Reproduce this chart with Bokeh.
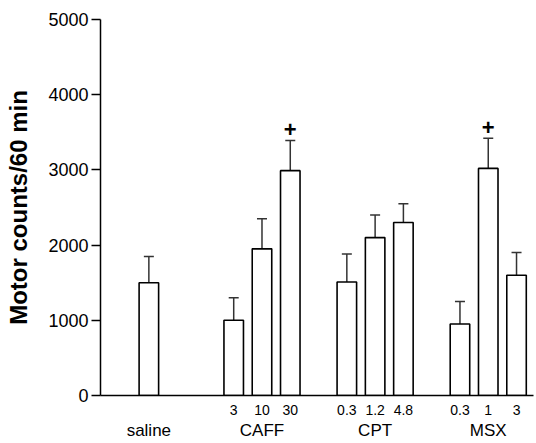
from bokeh.plotting import figure
from bokeh.models import ColumnDataSource, Whisker, TeeHead, FixedTicker, LinearAxis, Range1d
from bokeh.core.properties import value
from bokeh.embed import file_html
from bokeh.resources import INLINE

# ---- data ----
groups = ["saline", "CAFF", "CPT", "MSX"]
group_doses = [[""], ["3", "10", "30"], ["0.3", "1.2", "4.8"], ["0.3", "1", "3"]]
means = [1500, 1000, 1950, 2990, 1510, 2100, 2300, 950, 3020, 1600]
sems = [350, 300, 400, 400, 370, 300, 250, 300, 400, 300]
significant = [False, False, False, True, False, False, False, False, True, False]
y_ticks = [0, 1000, 2000, 3000, 4000, 5000]

# ---- positions: one slot per bar, gap between groups ----
xs, doses, gcenters = [], [], []
pos = 0
for gi, dl in enumerate(group_doses):
    start = pos
    for d in dl:
        xs.append(pos)
        doses.append(d)
        pos += 1
    gcenters.append((start + pos - 1) / 2)
    pos += 2 if gi == 0 else 1

upper = [m + s for m, s in zip(means, sems)]
src = ColumnDataSource(dict(x=xs, top=means, upper=upper))

FONT = "Liberation Sans"

p = figure(width=535, height=442, output_backend="svg", toolbar_location=None,
           x_range=Range1d(-1.71, 13.6), y_range=Range1d(0, 5000),
           min_border_left=100, min_border_right=2, min_border_top=19, min_border_bottom=46)
p.outline_line_color = None
p.grid.visible = False
p.background_fill_color = "white"

p.vbar(x="x", top="top", width=0.69, bottom=0, source=src,
       fill_color="white", line_color="black", line_width=1.6)

wh = Whisker(base="x", lower="top", upper="upper", source=src, dimension="height",
             line_color="#333333", line_width=1.5,
             upper_head=TeeHead(size=10, line_color="#333333", line_width=1.5),
             lower_head=None)
p.add_layout(wh)

# significance marks
sx = [x for x, s in zip(xs, significant) if s]
sy = [u + 150 for u, s in zip(upper, significant) if s]
p.text(x=sx, y=sy, text=["+"] * len(sx), text_font=value(FONT), text_font_style="bold",
       text_font_size="22px", text_align="center", text_baseline="middle", text_color="black")

# y axis
ya = p.yaxis[0]
ya.ticker = FixedTicker(ticks=y_ticks)
ya.axis_label = "Motor counts/60 min"
ya.axis_label_text_font = FONT
ya.axis_label_text_font_style = "bold"
ya.axis_label_text_font_size = "24px"
ya.axis_label_text_color = "black"
ya.axis_label_standoff = 13
ya.major_label_text_font = FONT
ya.major_label_text_font_size = "18px"
ya.major_label_text_color = "black"
ya.major_label_standoff = 3
ya.major_tick_out = 9
ya.major_tick_in = 0
ya.minor_tick_line_color = None
ya.axis_line_width = 1.5
ya.major_tick_line_width = 1.5

# x axis with dose labels
xa = p.xaxis[0]
dose_pos = [x for x, d in zip(xs, doses) if d]
xa.ticker = FixedTicker(ticks=dose_pos)
xa.major_label_overrides = {x: d for x, d in zip(xs, doses) if d}
xa.major_tick_line_color = None
xa.major_tick_out = 0
xa.major_tick_in = 0
xa.minor_tick_line_color = None
xa.major_label_standoff = 9
xa.major_label_text_font = FONT
xa.major_label_text_font_size = "14px"
xa.major_label_text_color = "black"
xa.axis_line_width = 1.5

# second axis below with group names
ga = LinearAxis(ticker=FixedTicker(ticks=gcenters),
                major_label_overrides={c: g for c, g in zip(gcenters, groups)})
ga.axis_line_color = None
ga.major_tick_line_color = None
ga.minor_tick_line_color = None
ga.major_tick_out = 0
ga.major_tick_in = 0
ga.major_label_standoff = 3
ga.major_label_text_font = FONT
ga.major_label_text_font_size = "17px"
ga.major_label_text_color = "black"
p.add_layout(ga, "below")

open("out.html", "w").write(file_html(p, INLINE))
